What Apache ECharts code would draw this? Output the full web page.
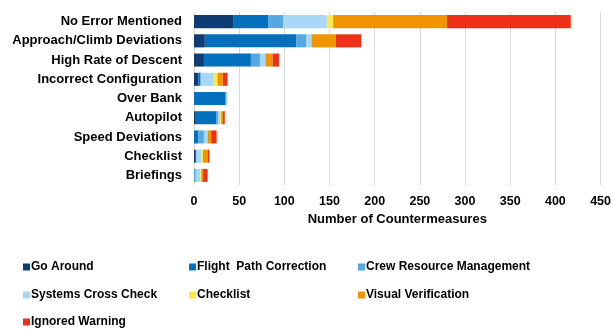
<!DOCTYPE html>
<html><head><meta charset="utf-8">
<script src="https://cdn.jsdelivr.net/npm/echarts@6/dist/echarts.min.js"></script>
<style>html,body{margin:0;padding:0;background:#fff}#c{width:614px;height:329px}</style>
</head><body><div id="c"></div>
<script>
const categories = ["No Error Mentioned","Approach/Climb Deviations","High Rate of Descent","Incorrect Configuration","Over Bank","Autopilot","Speed Deviations","Checklist","Briefings"];
const goAround        = [44, 12, 11, 5, 0, 2, 0, 2, 0];
const flightPath      = [38, 101, 52, 2, 35, 23, 5, 0, 0];
const crewResource    = [17, 11, 10, 1, 1, 2, 6, 1, 2];
const systemsCross    = [48, 6, 6, 13, 1, 2, 4, 5, 5];
const checklist       = [7, 0, 0, 5, 0, 1, 0, 2, 1];
const visualVerif     = [126, 27, 8, 6, 0, 2, 4, 5, 2];
const ignoredWarning  = [137, 28, 7, 5, 0, 2, 6, 2, 5];
const xTicks = [0,50,100,150,200,250,300,350,400,450];

const seriesDefs = [
  ["Go Around", goAround, "#0d3d73"],
  ["Flight  Path Correction", flightPath, "#0270bc"],
  ["Crew Resource Management", crewResource, "#55a8e2"],
  ["Systems Cross Check", systemsCross, "#a8d8f5"],
  ["Checklist", checklist, "#fde84b"],
  ["Visual Verification", visualVerif, "#f29400"],
  ["Ignored Warning", ignoredWarning, "#ec3117"]
];
const legendPos = [[23,261],[189,261],[358,261],[23,289],[189,289],[358,289],[23,316]];
const font = "Liberation Sans, Arial, sans-serif";
const legends = seriesDefs.map(([name], i) => ({
  left: legendPos[i][0], top: legendPos[i][1], padding:0, data:[name],
  icon:'rect', itemWidth:7, itemHeight:7, selectedMode:false,
  textStyle:{fontFamily:font, fontWeight:'bold', fontSize:12, color:'#000', padding:[0,0,0,-4]}
}));
const chart = echarts.init(document.getElementById('c'));
chart.setOption({
  animation:false,
  grid:{left:194, right:11, top:12, height:173},
  legend: legends,
  xAxis:{type:'value', min:xTicks[0], max:xTicks[xTicks.length-1], interval:50,
    name:'Number of Countermeasures', nameLocation:'middle', nameGap:28,
    nameTextStyle:{fontFamily:font, fontWeight:'bold', fontSize:13, color:'#000'},
    axisLine:{show:false}, axisTick:{show:false},
    axisLabel:{fontFamily:font, fontWeight:'bold', fontSize:12.5, color:'#000', margin:10},
    splitLine:{lineStyle:{color:'#d9d9d9', width:1}}},
  yAxis:{type:'category', data:categories, inverse:true,
    axisLine:{show:false}, axisTick:{show:false},
    axisLabel:{fontFamily:font, fontWeight:'bold', fontSize:13, color:'#000', margin:12}},
  series: seriesDefs.map(([name, data, color]) => ({
    name, type:'bar', stack:'total', data, barWidth:'68%',
    itemStyle:{color}
  }))
});
</script></body></html>
